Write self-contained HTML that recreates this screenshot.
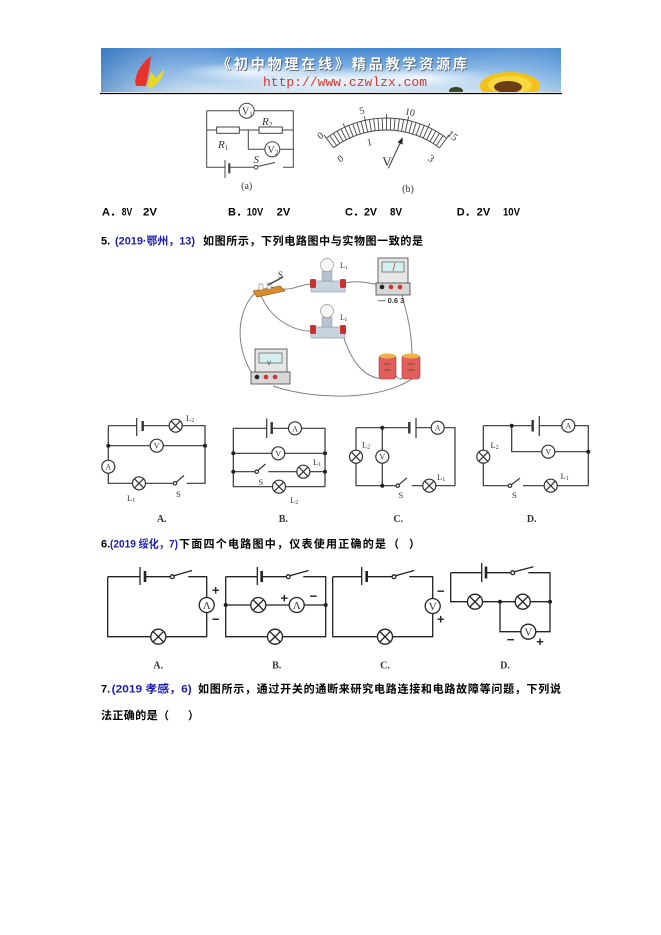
<!DOCTYPE html>
<html><head><meta charset="utf-8"><style>
html,body{margin:0;padding:0;background:#fff;}
svg{display:block;}
.cj{font-family:"Liberation Sans","Noto Sans CJK SC",sans-serif;font-weight:bold;font-size:11px;}
.lb{font-family:"Liberation Serif","Noto Serif CJK SC",serif;fill:#333;}
</style></head><body>
<svg width="661" height="935" viewBox="0 0 661 935" xmlns="http://www.w3.org/2000/svg">
<defs>
<linearGradient id="sky" x1="0" y1="0" x2="0" y2="1">
<stop offset="0" stop-color="#4586d0"/><stop offset="0.55" stop-color="#8cbbe7"/><stop offset="1" stop-color="#d2e4f2"/>
</linearGradient>
<linearGradient id="skyh" x1="0" y1="0" x2="1" y2="0">
<stop offset="0" stop-color="#2f6fb8" stop-opacity="0.6"/><stop offset="0.3" stop-color="#ffffff" stop-opacity="0"/><stop offset="0.75" stop-color="#ffffff" stop-opacity="0"/><stop offset="1" stop-color="#5d9ad6" stop-opacity="0.4"/>
</linearGradient>
<radialGradient id="cloud" cx="0.5" cy="0.5" r="0.5">
<stop offset="0" stop-color="#ffffff" stop-opacity="0.85"/><stop offset="1" stop-color="#ffffff" stop-opacity="0"/>
</radialGradient>
<clipPath id="bclip"><rect x="101" y="48" width="460" height="44"/></clipPath>
</defs>
<rect width="661" height="935" fill="#fff"/>

<!-- Banner -->
<g clip-path="url(#bclip)">
<rect x="101" y="48" width="460" height="44" fill="url(#sky)"/>
<rect x="101" y="48" width="460" height="44" fill="url(#skyh)"/>
<ellipse cx="330" cy="80" rx="120" ry="14" fill="url(#cloud)"/>
<ellipse cx="250" cy="72" rx="70" ry="10" fill="url(#cloud)"/>
<ellipse cx="420" cy="78" rx="80" ry="12" fill="url(#cloud)"/>
<path d="M136,86 C133,78 140,64 151,56 C150,66 148,76 146,86 Z" fill="#e8322a"/>
<path d="M147,86 L151,72 L156,78 L164,69 C163,78 158,85 150,88 Z" fill="#e8d826"/>
<ellipse cx="510" cy="86" rx="30" ry="14" fill="#f2c21a"/>
<ellipse cx="510" cy="85" rx="22" ry="9" fill="#f7d840"/>
<ellipse cx="508" cy="87" rx="14" ry="6" fill="#6b3d12"/>
<ellipse cx="456" cy="91" rx="7" ry="4" fill="#3b4a2a"/>
<text x="218" y="70" font-family="'Noto Sans CJK SC',sans-serif" font-weight="bold" font-size="14" fill="#333" opacity="0.6" textLength="250" lengthAdjust="spacing">《初中物理在线》精品教学资源库</text>
<text x="217" y="69" font-family="'Noto Sans CJK SC',sans-serif" font-weight="bold" font-size="14" fill="#fff" textLength="250" lengthAdjust="spacing">《初中物理在线》精品教学资源库</text>
<text x="263" y="86" font-family="'Liberation Mono',monospace" font-size="13" fill="#d8352f" textLength="164" lengthAdjust="spacing">http://www.czwlzx.com</text>
</g>
<line x1="100" y1="93.5" x2="562" y2="93.5" stroke="#000" stroke-width="1.3"/>

<!-- Circuit (a) -->
<g stroke="#444" stroke-width="1" fill="none">
<path d="M206.7,110.7 H239.2 M254.2,110.7 H293.3 V167.3 H283 M254.2,167.3 H229.3 M225,167.3 H206.7 V110.7"/>
<circle cx="246.7" cy="110.7" r="7.5"/>
<path d="M206.7,130 H216.7 M239.3,130 H259 M282.3,130 H293.3"/>
<rect x="216.7" y="127" width="22.6" height="6.3"/>
<rect x="259" y="127" width="23.3" height="6.3"/>
<path d="M248.3,130 V149.3 H264.8 M279.8,149.3 H293.3"/>
<circle cx="272.3" cy="149.3" r="7.5"/>
<line x1="225" y1="160" x2="225" y2="178"/>
<line x1="229.3" y1="163.3" x2="229.3" y2="173.3" stroke-width="2.2"/>
<circle cx="256" cy="167.3" r="1.8"/>
<line x1="257.6" y1="166.5" x2="275" y2="162.5"/>
</g>
<g class="lb" font-size="10">
<text x="242" y="114.5">V<tspan font-size="7" dy="2">1</tspan></text>
<text x="267.5" y="153">V<tspan font-size="7" dy="2">2</tspan></text>
</g>
<g class="lb" font-size="11" font-style="italic">
<text x="262" y="125">R<tspan font-size="7" dy="2" font-style="normal">2</tspan></text>
<text x="218" y="148">R<tspan font-size="7" dy="2" font-style="normal">1</tspan></text>
<text x="253.5" y="163">S</text>
</g>
<text class="lb" x="246.7" y="189" font-size="10" text-anchor="middle">(a)</text>

<!-- Meter (b) -->
<g stroke="#444" stroke-width="0.9" fill="none">
<path d="M326.32,138.14 A100,100 0 0 1 446.68,138.14"/>
<path d="M333.54,147.72 A88,88 0 0 1 439.46,147.72"/>
<path d="M333.54,147.72 L323.91,134.94 M336.61,145.51 L329.81,135.62 M339.78,143.43 L333.41,133.26 M343.04,141.48 L337.11,131.05 M346.37,139.68 L340.9,129.0 M349.78,138.03 L343.1,123.48 M353.25,136.52 L348.72,125.41 M356.79,135.17 L352.74,123.87 M360.38,133.97 L356.82,122.51 M364.02,132.92 L360.96,121.32 M367.70,132.03 L364.29,116.40 M371.42,131.30 L369.36,119.48 M375.17,130.73 L373.62,118.83 M378.93,130.33 L377.9,118.37 M382.72,130.08 L382.2,118.09 M386.5,130 L386.5,114 M390.28,130.08 L390.8,118.09 M394.07,130.33 L395.1,118.37 M397.83,130.73 L399.38,118.83 M401.58,131.30 L403.64,119.48 M405.30,132.03 L408.71,116.40 M408.98,132.92 L412.04,121.32 M412.62,133.97 L416.18,122.51 M416.21,135.17 L420.26,123.87 M419.75,136.52 L424.28,125.41 M423.22,138.03 L429.9,123.48 M426.63,139.68 L432.1,129.0 M429.96,141.48 L435.89,131.05 M433.22,143.43 L439.59,133.26 M436.39,145.51 L443.19,135.62 M439.46,147.72 L449.09,134.94"/>
<line x1="388.3" y1="168.3" x2="401.5" y2="140" stroke-width="1.1"/>
</g>
<polygon points="402.8,137.2 402.4,144.6 397.6,142.2" fill="#222"/>
<g class="lb" font-size="10">
<text x="320" y="139" text-anchor="middle" transform="rotate(-37 320 135)">0</text>
<text x="361.7" y="114" text-anchor="middle" transform="rotate(-12 361.7 110)">5</text>
<text x="410" y="115.5" text-anchor="middle" transform="rotate(12 410 111.7)">10</text>
<text x="453" y="139" text-anchor="middle" transform="rotate(37 453 135)">15</text>
<text x="340" y="162" text-anchor="middle" transform="rotate(-37 340 158)">0</text>
<text x="369.3" y="145.5" text-anchor="middle" transform="rotate(-12 369.3 141.7)">1</text>
<text x="431.7" y="162" text-anchor="middle" transform="rotate(37 431.7 158)">3</text>
<text x="387" y="166" font-size="13" text-anchor="middle">V</text>
</g>
<text class="lb" x="408" y="192" font-size="10" text-anchor="middle">(b)</text>

<!-- Options -->
<g class="cj" fill="#000">
<text x="102" y="215.7">A．</text><text x="121.7" y="215.7" textLength="10.5" lengthAdjust="spacingAndGlyphs">8V</text><text x="143" y="215.7" textLength="14" lengthAdjust="spacingAndGlyphs">2V</text>
<text x="228" y="215.7">B．</text><text x="246.7" y="215.7" textLength="16.5" lengthAdjust="spacingAndGlyphs">10V</text><text x="276.7" y="215.7" textLength="13.5" lengthAdjust="spacingAndGlyphs">2V</text>
<text x="345" y="215.7">C．</text><text x="364" y="215.7" textLength="13" lengthAdjust="spacingAndGlyphs">2V</text><text x="390" y="215.7" textLength="12" lengthAdjust="spacingAndGlyphs">8V</text>
<text x="456.7" y="215.7">D．</text><text x="476.7" y="215.7" textLength="13.5" lengthAdjust="spacingAndGlyphs">2V</text><text x="503" y="215.7" textLength="17" lengthAdjust="spacingAndGlyphs">10V</text>
</g>

<!-- Q5 -->
<g class="cj">
<text x="101" y="244.5" fill="#000">5.</text>
<text x="115" y="244.5" fill="#1c1cb4" textLength="80" lengthAdjust="spacingAndGlyphs">(2019·鄂州，13)</text>
<text x="203" y="244.5" fill="#000" textLength="220" lengthAdjust="spacing">如图所示，下列电路图中与实物图一致的是</text>
</g>

<!-- Photo of physical circuit -->
<g stroke="#808080" stroke-width="1" fill="none">
<path d="M282,289 C295,290 300,284 313,284"/>
<path d="M345,283 C358,280 368,283 380,285"/>
<path d="M401,292 C406,310 412,330 412,356"/>
<path d="M262,288 C240,300 230,340 254,377"/>
<path d="M260,293 C270,320 295,332 313,331"/>
<path d="M342,332 C350,360 365,382 388,378"/>
<path d="M396,376 C399,380 402,380 404,376"/>
<path d="M273,386 C320,402 392,400 419,373"/>
</g>
<polygon points="253,291 280,286 285,291 257,297" fill="#d98a2b" stroke="#8a5010" stroke-width="0.6"/>
<rect x="259" y="284" width="4" height="6" fill="#f4f4f4" stroke="#777" stroke-width="0.5"/>
<rect x="267" y="283" width="4" height="6" fill="#f4f4f4" stroke="#777" stroke-width="0.5"/>
<line x1="268" y1="285" x2="283" y2="277" stroke="#444" stroke-width="1.5"/>
<text class="lb" x="278" y="278" font-size="9">S</text>
<rect x="311" y="281" width="34" height="11" fill="#c9d3de" stroke="#8796a8" stroke-width="0.6"/>
<rect x="310" y="279" width="6" height="9" rx="1.5" fill="#c83232"/>
<rect x="340" y="279" width="6" height="9" rx="1.5" fill="#c83232"/>
<rect x="322" y="271" width="10" height="10" fill="#b6c2ce" stroke="#8796a8" stroke-width="0.5"/>
<circle cx="327" cy="265" r="6.5" fill="#f6f6f2" stroke="#999" stroke-width="0.7"/>
<text class="lb" x="340" y="268" font-size="8">L<tspan font-size="5" dy="1">1</tspan></text>
<rect x="311" y="327" width="34" height="11" fill="#c9d3de" stroke="#8796a8" stroke-width="0.6"/>
<rect x="310" y="325" width="6" height="9" rx="1.5" fill="#c83232"/>
<rect x="340" y="325" width="6" height="9" rx="1.5" fill="#c83232"/>
<rect x="322" y="317" width="10" height="10" fill="#b6c2ce" stroke="#8796a8" stroke-width="0.5"/>
<circle cx="327" cy="311" r="6.5" fill="#f6f6f2" stroke="#999" stroke-width="0.7"/>
<text class="lb" x="340" y="320" font-size="8">L<tspan font-size="5" dy="1">2</tspan></text>
<rect x="378" y="258" width="30" height="28" fill="#e6e6e6" stroke="#444" stroke-width="0.8"/>
<rect x="382" y="262" width="22" height="10" fill="#d4f0ee" stroke="#444" stroke-width="0.6"/>
<line x1="393" y1="271" x2="395" y2="263" stroke="#c33" stroke-width="0.7"/>
<rect x="376" y="283" width="34" height="12" fill="#d6d6d6" stroke="#444" stroke-width="0.8"/>
<circle cx="382" cy="287" r="2.3" fill="#222"/>
<circle cx="391" cy="287" r="2.3" fill="#c33"/>
<circle cx="400" cy="287" r="2.3" fill="#c33"/>
<text x="378" y="303" font-family="'Liberation Sans',sans-serif" font-weight="bold" font-size="7.5" fill="#333">— 0.6 3</text>
<rect x="255" y="349" width="32" height="27" fill="#e6e6e6" stroke="#444" stroke-width="0.8"/>
<rect x="259" y="353" width="23" height="10" fill="#d4f0ee" stroke="#444" stroke-width="0.6"/>
<text x="267" y="365" font-family="'Liberation Sans',sans-serif" font-size="6" fill="#333">V</text>
<rect x="251" y="372" width="39" height="12" fill="#d6d6d6" stroke="#444" stroke-width="0.8"/>
<circle cx="257" cy="377" r="2.3" fill="#222"/>
<circle cx="266" cy="377" r="2.3" fill="#c33"/>
<circle cx="275" cy="377" r="2.3" fill="#c33"/>
<rect x="379" y="355" width="17" height="24" rx="3" fill="#e45e5e" stroke="#a33" stroke-width="0.6"/>
<ellipse cx="387.5" cy="356" rx="8" ry="2.5" fill="#e9b448"/>
<rect x="402" y="355" width="18" height="24" rx="3" fill="#e45e5e" stroke="#a33" stroke-width="0.6"/>
<ellipse cx="411" cy="356" rx="8.5" ry="2.5" fill="#e9b448"/>
<g stroke="#552" stroke-width="0.8"><line x1="384" y1="364" x2="391" y2="364"/><line x1="384" y1="370" x2="391" y2="370"/><line x1="407" y1="364" x2="415" y2="364"/><line x1="407" y1="370" x2="415" y2="370"/></g>

<!-- Q5 circuits -->
<g stroke="#333" stroke-width="1.2" fill="none">
<path d="M108.3,425.7 H136.7 M142.7,425.7 H169.2 M182.2,425.7 H205 V483.3 H186.7"/>
<line x1="136.7" y1="418" x2="136.7" y2="436"/><line x1="142.7" y1="421" x2="142.7" y2="431" stroke-width="2.4"/>
<circle cx="175.7" cy="425.7" r="6.5"/><path d="M171.1,421.1 L180.3,430.3 M180.3,421.1 L171.1,430.3"/>
<path d="M108.3,445.7 H150.2 M163.2,445.7 H205"/><circle cx="156.7" cy="445.7" r="6.5"/>
<path d="M108.3,425.7 V460.2 M108.3,473.2 V483.3 H132.5"/><circle cx="108.3" cy="466.7" r="6.5"/>
<circle cx="139" cy="483.3" r="6.5"/><path d="M134.4,478.7 L143.6,487.9 M143.6,478.7 L134.4,487.9"/>
<path d="M145.5,483.3 H173.3"/><circle cx="175" cy="483.3" r="1.7"/><line x1="176.3" y1="482.2" x2="184" y2="475.5"/>
<path d="M233.3,428.3 H266.7 M271.7,428.3 H288.5 M301.5,428.3 H325 V486.7 M233.3,428.3 V486.7"/>
<line x1="266.7" y1="418.5" x2="266.7" y2="438"/><line x1="271.7" y1="422" x2="271.7" y2="434" stroke-width="2.4"/>
<circle cx="295" cy="428.3" r="6.5"/>
<path d="M233.3,453.3 H271.8 M284.8,453.3 H325"/><circle cx="278.3" cy="453.3" r="6.5"/>
<path d="M233.3,471.7 H255 M268.3,471.7 H296.8 M309.8,471.7 H325"/><circle cx="256.7" cy="471.7" r="1.7"/><line x1="258" y1="470.5" x2="265.5" y2="464"/>
<circle cx="303.3" cy="471.7" r="6.5"/><path d="M298.7,467.1 L307.9,476.3 M307.9,467.1 L298.7,476.3"/>
<path d="M233.3,486.7 H272.5 M285.5,486.7 H325"/>
<circle cx="279" cy="486.7" r="6.5"/><path d="M274.4,482.1 L283.6,491.3 M283.6,482.1 L274.4,491.3"/>
<path d="M356,427.7 H409.3 M416,427.7 H431.2 M444.2,427.7 H455 V485.7"/>
<line x1="409.3" y1="422" x2="409.3" y2="433.5" stroke-width="2.4"/><line x1="416" y1="418" x2="416" y2="438"/>
<circle cx="437.7" cy="427.7" r="6.5"/>
<path d="M356,427.7 V450.2 M356,463.2 V485.7"/>
<circle cx="356" cy="456.7" r="6.5"/><path d="M351.4,452.1 L360.6,461.3 M360.6,452.1 L351.4,461.3"/>
<path d="M382.3,427.7 V450.2 M382.3,463.2 V485.7"/><circle cx="382.3" cy="456.7" r="6.5"/>
<path d="M356,485.7 H396 M411.7,485.7 H422.8 M435.8,485.7 H455"/>
<circle cx="397.7" cy="485.7" r="1.7"/><line x1="399" y1="484.6" x2="407" y2="477.8"/>
<circle cx="429.3" cy="485.7" r="6.5"/><path d="M424.7,481.1 L433.9,490.3 M433.9,481.1 L424.7,490.3"/>
<path d="M483.3,425.7 H532.7 M539.3,425.7 H561.8 M574.8,425.7 H588.3 V485.7"/>
<line x1="532.7" y1="420" x2="532.7" y2="431.5" stroke-width="2.4"/><line x1="539.3" y1="416" x2="539.3" y2="436"/>
<circle cx="568.3" cy="425.7" r="6.5"/>
<path d="M511.7,425.7 V451.7 H541.8 M554.8,451.7 H588.3"/><circle cx="548.3" cy="451.7" r="6.5"/>
<path d="M483.3,425.7 V450.2 M483.3,463.2 V485.7 H508.3 M523,485.7 H544.2 M557.2,485.7 H588.3"/>
<circle cx="483.3" cy="456.7" r="6.5"/><path d="M478.7,452.1 L487.9,461.3 M487.9,452.1 L478.7,461.3"/>
<circle cx="510" cy="485.7" r="1.7"/><line x1="511.3" y1="484.6" x2="520" y2="478.2"/>
<circle cx="550.7" cy="485.7" r="6.5"/><path d="M546.1,481.1 L555.3,490.3 M555.3,481.1 L546.1,490.3"/>
</g>
<g fill="#222">
<circle cx="108.3" cy="445.7" r="2"/><circle cx="205" cy="445.7" r="2"/>
<circle cx="233.3" cy="453.3" r="2"/><circle cx="325" cy="453.3" r="2"/><circle cx="233.3" cy="471.7" r="2"/><circle cx="325" cy="471.7" r="2"/>
<circle cx="382.3" cy="427.7" r="2"/><circle cx="382.3" cy="485.7" r="2"/>
<circle cx="511.7" cy="425.7" r="2"/><circle cx="588.3" cy="451.7" r="2"/>
</g>
<g class="lb" font-size="8" text-anchor="middle">
<text x="156.7" y="448.7">V</text><text x="108.3" y="469.7">A</text><text x="295" y="431.3">A</text><text x="278.3" y="456.3">V</text>
<text x="437.7" y="430.7">A</text><text x="382.3" y="459.7">V</text><text x="568.3" y="428.7">A</text><text x="548.3" y="454.7">V</text>
</g>
<g class="lb" font-size="8.5" fill="#555">
<text x="186" y="421">L<tspan font-size="6" dy="1">2</tspan></text>
<text x="127" y="501">L<tspan font-size="6" dy="1">1</tspan></text>
<text x="176" y="497">S</text>
<text x="313" y="465">L<tspan font-size="6" dy="1">1</tspan></text>
<text x="290" y="503">L<tspan font-size="6" dy="1">2</tspan></text>
<text x="258.5" y="485">S</text>
<text x="362" y="447.5">L<tspan font-size="6" dy="1">2</tspan></text>
<text x="437" y="480">L<tspan font-size="6" dy="1">1</tspan></text>
<text x="398.5" y="498">S</text>
<text x="490.5" y="448">L<tspan font-size="6" dy="1">2</tspan></text>
<text x="560.5" y="479">L<tspan font-size="6" dy="1">1</tspan></text>
<text x="512" y="498">S</text>
</g>
<g class="lb" font-size="10" font-weight="bold" text-anchor="middle" fill="#222">
<text x="161.7" y="522">A.</text><text x="283.3" y="522">B.</text><text x="398.3" y="522">C.</text><text x="531.7" y="522">D.</text>
</g>

<!-- Q6 -->
<g class="cj">
<text x="101" y="547.5" fill="#000">6.</text>
<text x="110" y="547.5" fill="#1c1cb4" textLength="68" lengthAdjust="spacingAndGlyphs">(2019 绥化，7)</text>
<text x="179" y="547.5" fill="#000" textLength="207" lengthAdjust="spacing">下面四个电路图中，仪表使用正确的是</text>
<text x="388" y="547.5" fill="#000">（</text>
<text x="409" y="547.5" fill="#000">）</text>
</g>

<!-- Q6 circuits -->
<g stroke="#222" stroke-width="1.3" fill="none">
<path d="M107.7,576.7 H140 M145,576.7 H170.5 M188.3,576.7 H206.7 V597.5 M206.7,612.5 V636.7 H165.8 M150.8,636.7 H107.7 V576.7"/>
<line x1="140" y1="567" x2="140" y2="585"/><line x1="145" y1="571" x2="145" y2="582" stroke-width="2.6"/>
<circle cx="172.3" cy="576.7" r="1.9"/><line x1="173.9" y1="575.7" x2="192" y2="570.5"/>
<circle cx="206.7" cy="605" r="7.5"/>
<circle cx="158.3" cy="636.7" r="7.5"/><path d="M153,631.4 L163.6,642 M163.6,631.4 L153,642"/>
<path d="M225.7,576.7 H257.3 M261.7,576.7 H286.5 M303.3,576.7 H325.7 V636.7 H282.5 M267.5,636.7 H225.7 V576.7"/>
<line x1="257.3" y1="567" x2="257.3" y2="585"/><line x1="261.7" y1="571" x2="261.7" y2="582" stroke-width="2.6"/>
<circle cx="288.3" cy="576.7" r="1.9"/><line x1="289.9" y1="575.7" x2="308.5" y2="570.5"/>
<circle cx="275" cy="636.7" r="7.5"/><path d="M269.7,631.4 L280.3,642 M280.3,631.4 L269.7,642"/>
<path d="M225.7,605 H250.8 M265.8,605 H289.2 M304.2,605 H325.7"/>
<circle cx="258.3" cy="605" r="7.5"/><path d="M253,599.7 L263.6,610.3 M263.6,599.7 L253,610.3"/>
<circle cx="296.7" cy="605" r="7.5"/>
<path d="M332.7,576.7 H361.7 M366.7,576.7 H392.2 M409.3,576.7 H432.7 V598.5 M432.7,613.5 V636.7 H392.5 M377.5,636.7 H332.7 V576.7"/>
<line x1="361.7" y1="567" x2="361.7" y2="585"/><line x1="366.7" y1="571" x2="366.7" y2="582" stroke-width="2.6"/>
<circle cx="394" cy="576.7" r="1.9"/><line x1="395.6" y1="575.7" x2="414.2" y2="570.5"/>
<circle cx="432.7" cy="606" r="7.5"/>
<circle cx="385" cy="636.7" r="7.5"/><path d="M379.7,631.4 L390.3,642 M390.3,631.4 L379.7,642"/>
<path d="M450.7,572.7 H481.7 M486,572.7 H510.9 M528.3,572.7 H550 V631.7 H535.8 M520.8,631.7 H500 V601.7"/>
<line x1="481.7" y1="563" x2="481.7" y2="582"/><line x1="486" y1="566.5" x2="486" y2="578.5" stroke-width="2.6"/>
<circle cx="512.7" cy="572.7" r="1.9"/><line x1="514.3" y1="571.7" x2="533.5" y2="566.8"/>
<path d="M450.7,572.7 V601.7 H467.5 M482.5,601.7 H515.2 M530.2,601.7 H550"/>
<circle cx="475" cy="601.7" r="7.5"/><path d="M469.7,596.4 L480.3,607 M480.3,596.4 L469.7,607"/>
<circle cx="522.7" cy="601.7" r="7.5"/><path d="M517.4,596.4 L528,607 M528,596.4 L517.4,607"/>
<circle cx="528.3" cy="631.7" r="7.5"/>
</g>
<g fill="#222">
<circle cx="225.7" cy="605" r="2"/><circle cx="325.7" cy="605" r="2"/>
<circle cx="500" cy="601.7" r="2"/><circle cx="550" cy="601.7" r="2"/>
</g>
<g class="lb" font-size="11" text-anchor="middle" fill="#222">
<text x="206.7" y="609">Λ</text><text x="296.7" y="609">Λ</text><text x="432.7" y="610">V</text><text x="528.3" y="635.7">V</text>
</g>
<g font-family="'Liberation Sans',sans-serif" font-size="13" font-weight="bold" text-anchor="middle" fill="#222">
<text x="215.7" y="594.5">+</text><text x="215.7" y="623.5">−</text>
<text x="284.3" y="602.5">+</text><text x="313.3" y="600.5">−</text>
<text x="440.7" y="595.5">−</text><text x="440.7" y="623.5">+</text>
<text x="510.7" y="644">−</text><text x="540" y="646">+</text>
</g>
<g class="lb" font-size="10" font-weight="bold" text-anchor="middle" fill="#222">
<text x="158.3" y="668.5">A.</text><text x="276.7" y="668.5">B.</text><text x="385" y="668.5">C.</text><text x="505" y="668.5">D.</text>
</g>

<!-- Q7 -->
<g class="cj">
<text x="101" y="692.5" fill="#000">7.</text>
<text x="111.7" y="692.5" fill="#1c1cb4" textLength="80" lengthAdjust="spacingAndGlyphs">(2019 孝感，6)</text>
<text x="198" y="692.5" fill="#000" textLength="363" lengthAdjust="spacing">如图所示，通过开关的通断来研究电路连接和电路故障等问题，下列说</text>
<text x="101" y="719" fill="#000" textLength="68" lengthAdjust="spacing">法正确的是（</text>
<text x="188" y="719" fill="#000">）</text>
</g>
</svg>
</body></html>
